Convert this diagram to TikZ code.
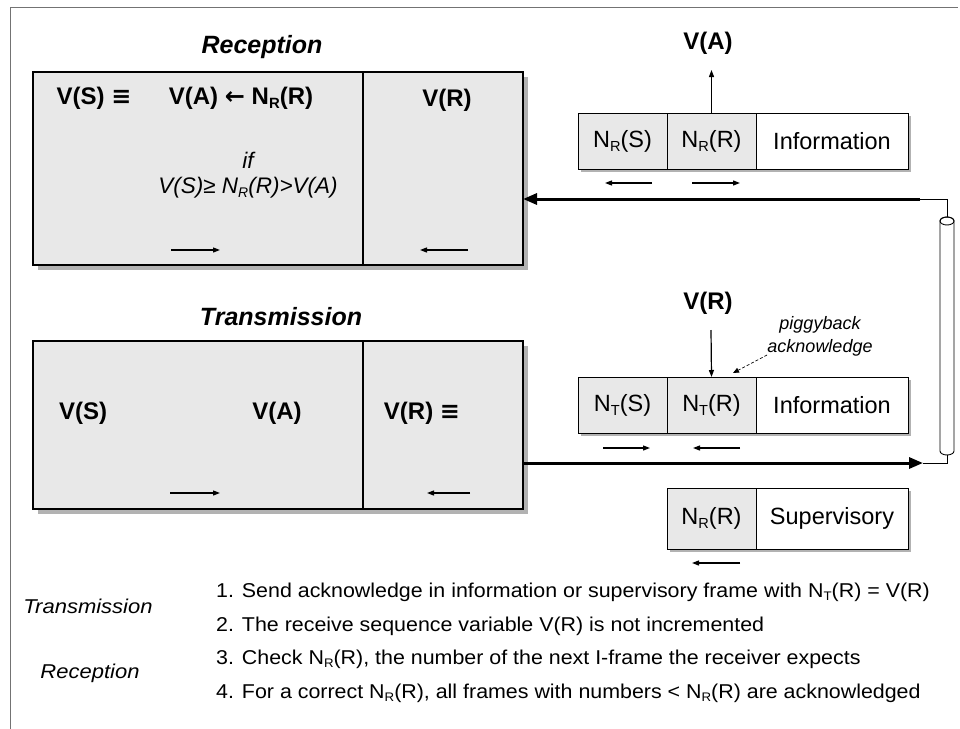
\documentclass[tikz,border=0pt]{standalone}
\usepackage{fontspec}
\setmainfont{Liberation Sans}
\newfontfamily\notefont[FakeStretch=1.07]{Liberation Sans}
\newfontfamily\sidefont[FakeStretch=1.1]{Liberation Sans}
\newfontfamily\symfont{DejaVu Sans}
\newcommand{\lowsub}[1]{\raisebox{-0.35ex}{\fontsize{0.62em}{1em}\selectfont #1}}
\usetikzlibrary{arrows.meta,calc}
\begin{document}
\begin{tikzpicture}[x=1pt,y=-1pt,
  stipple/.style={fill=black!9},
  shade/.style={fill=black!30},
  regbox/.style={draw, line width=1.2pt, stipple, inner sep=0pt, outer sep=0pt, anchor=north west},
  field/.style={draw, line width=0.9pt, inner sep=0pt, outer sep=0pt, anchor=north west,
                font=\fontsize{23.5}{26}\selectfont},
  var/.style={font=\fontsize{24}{28}\selectfont\bfseries},
  expr/.style={font=\fontsize{22.5}{26}\selectfont\itshape},
  title/.style={font=\fontsize{25}{28}\selectfont\bfseries\itshape},
  flow/.style={-{Triangle[length=7pt,width=5pt]}, line width=1.2pt},
  link/.style={line width=3pt, -{Triangle[length=14pt,width=11pt]}},
  wire/.style={line width=0.9pt},
  note/.style={font=\notefont\fontsize{20}{24}\selectfont, anchor=west, inner sep=0pt},
  side/.style={font=\sidefont\fontsize{20}{24}\selectfont\itshape, inner sep=0pt},
]
\useasboundingbox (0,0) rectangle (960,728);

% outer frame
\draw[black!55, line width=0.8pt] (10,740) -- (10,7) -- (958,7);

% ---------------- reception side ----------------
\node[title] (rtitle) at (262,47) {Reception};
\fill[shade] (38,77) rectangle (528,270);
\node[regbox, minimum width=330pt, minimum height=193pt] (recL) at (33,72) {};
\node[regbox, minimum width=160pt, minimum height=193pt] (recR) at (363,72) {};
\node[var] (rvs) at (94,98) {V(S) {\symfont ≡}};
\node[var] (rva) at (241,98) {V(A) {\symfont\bfseries ←} N\lowsub{R}(R)};
\node[expr] (rif) at (248,160) {if};
\node[expr] (rcond) at (248,188) {V(S)≥ N\lowsub{R}(R)>V(A)};
\node[var] (rvr) at (447,100) {V(R)};
\coordinate (ra1) at (171,250); \coordinate (ra2) at (220,250);
\draw[flow] (ra1) -- (ra2);
\coordinate (ra3) at (468,250); \coordinate (ra4) at (420,250);
\draw[flow] (ra3) -- (ra4);

% ---------------- transmission side ----------------
\node[title] (ttitle) at (281,317) {Transmission};
\fill[shade] (38,346) rectangle (528,514);
\node[regbox, minimum width=330pt, minimum height=168pt] (trL) at (33,341) {};
\node[regbox, minimum width=160pt, minimum height=168pt] (trR) at (363,341) {};
\node[var] (tvs) at (83,413) {V(S)};
\node[var] (tva) at (277,413) {V(A)};
\node[var] (tvr) at (422,413) {V(R) {\symfont ≡}};
\coordinate (ta1) at (170,493); \coordinate (ta2) at (220,493);
\draw[flow] (ta1) -- (ta2);
\coordinate (ta3) at (470,493); \coordinate (ta4) at (427,493);
\draw[flow] (ta3) -- (ta4);

% ---------------- received information frame ----------------
\fill[black!30] (581,116) rectangle (911,172);
\node[field, stipple, minimum width=89pt, minimum height=56pt] (i1) at (578,113) {N\lowsub{R}(S)};
\node[field, stipple, minimum width=89pt, minimum height=56pt] (i2) at (667,113) {N\lowsub{R}(R)};
\node[field, fill=white, minimum width=152pt, minimum height=56pt] (i3) at (756,113) {Information};
\node[var] (uva) at (708,43) {V(A)};
\draw[flow] (i2.north) -- ++(0,-43);
\coordinate (ia1) at (652,183); \coordinate (ia2) at (605,183);
\draw[flow] (ia1) -- (ia2);
\coordinate (ia3) at (692,183); \coordinate (ia4) at (740,183);
\draw[flow] (ia3) -- (ia4);

% ---------------- sent information frame ----------------
\fill[black!30] (581,380) rectangle (911,436);
\node[field, stipple, minimum width=89pt, minimum height=56pt] (s1) at (578,377) {N\lowsub{T}(S)};
\node[field, stipple, minimum width=89pt, minimum height=56pt] (s2) at (667,377) {N\lowsub{T}(R)};
\node[field, fill=white, minimum width=152pt, minimum height=56pt] (s3) at (756,377) {Information};
\node[var] (lvr) at (708,303) {V(R)};
\draw[flow] (711,330) -- (s2.north);
\node[font=\fontsize{18}{23}\selectfont\itshape, align=center] (pig) at (820,336) {piggyback\\acknowledge};
\coordinate (pg1) at (767,355); \coordinate (pg2) at (733,373);
\draw[densely dashed, line width=0.7pt, -{Triangle[length=6pt,width=5pt]}] (pg1) -- (pg2);
\coordinate (sa1) at (603,448); \coordinate (sa2) at (650,448);
\draw[flow] (sa1) -- (sa2);
\coordinate (sa3) at (740,448); \coordinate (sa4) at (693,448);
\draw[flow] (sa3) -- (sa4);

% ---------------- supervisory frame ----------------
\fill[black!30] (670,491) rectangle (911,552);
\node[field, stipple, minimum width=89pt, minimum height=61pt] (v1) at (667,488) {N\lowsub{R}(R)};
\node[field, fill=white, minimum width=152pt, minimum height=61pt] (v2) at (756,488) {Supervisory};
\coordinate (va1) at (740,563); \coordinate (va2) at (692,563);
\draw[flow] (va1) -- (va2);

% ---------------- line (cable) ----------------
\coordinate (ctop) at (947,217);
\coordinate (cbot) at (947,455);
\draw[wire, fill=white] (940,221) -- (940,451)
  arc[start angle=180, end angle=0, x radius=7, y radius=4]
  -- (954,221) arc[start angle=0, end angle=-180, x radius=7, y radius=4] -- cycle;
\draw[wire] (947,221) ellipse[x radius=7, y radius=4];

\coordinate (rin) at (920,199);
\draw[wire] (ctop) -- (947,199) -- (rin);
\draw[link] (rin) -- (recR.east |- rin);

\coordinate (tout) at (923,463);
\draw[link] (trR.east |- tout) -- (tout);
\draw[wire] (tout) -- (947,463) -- (cbot);

% ---------------- explanation ----------------
\node[side] (xt) at (88,606) {Transmission};
\node[side] (xr) at (90,673) {Reception};
\node[note] (n1) at (216,592) {1. Send acknowledge in information or supervisory frame with N\lowsub{T}(R) = V(R)};
\node[note] (n2) at (216,626) {2. The receive sequence variable V(R) is not incremented};
\node[note] (n3) at (216,659) {3. Check N\lowsub{R}(R), the number of the next I-frame the receiver expects};
\node[note] (n4) at (216,693) {4. For a correct N\lowsub{R}(R), all frames with numbers < N\lowsub{R}(R) are acknowledged};
\end{tikzpicture}
\end{document}
